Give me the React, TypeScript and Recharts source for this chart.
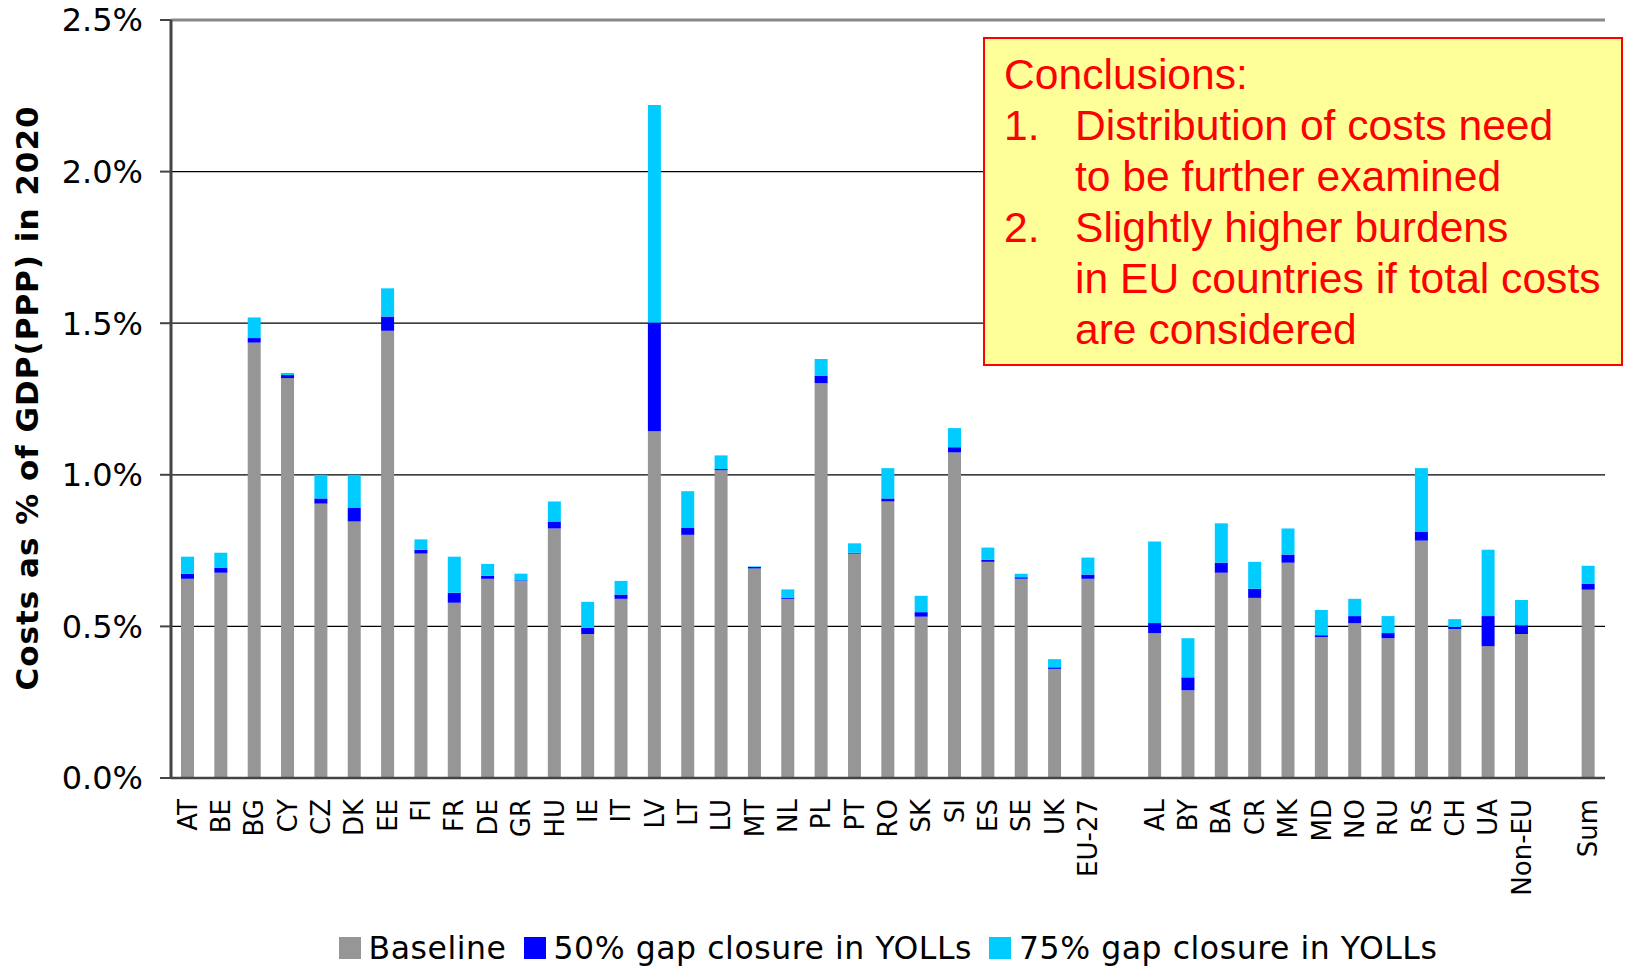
import React from "react";
import { BarChart, Bar, XAxis, YAxis, CartesianGrid, Legend, ReferenceLine } from "recharts";

const categories = ["AT","BE","BG","CY","CZ","DK","EE","FI","FR","DE","GR","HU","IE","IT","LV","LT","LU","MT","NL","PL","PT","RO","SK","SI","ES","SE","UK","EU-27","","AL","BY","BA","CR","MK","MD","NO","RU","RS","CH","UA","Non-EU","","Sum"];
const baseline = [0.657,0.677,1.436,1.319,0.905,0.846,1.475,0.740,0.578,0.657,0.650,0.823,0.475,0.591,1.144,0.802,1.015,0.691,0.591,1.302,0.740,0.912,0.532,1.074,0.713,0.657,0.360,0.657,null,0.478,0.289,0.677,0.594,0.710,0.465,0.511,0.461,0.783,0.491,0.435,0.475,null,0.621];
const gap50 = [0.017,0.017,0.015,0.010,0.017,0.046,0.047,0.013,0.033,0.010,0.002,0.023,0.020,0.014,0.358,0.024,0.004,0.005,0.004,0.024,0.003,0.010,0.015,0.017,0.007,0.005,0.005,0.014,null,0.033,0.043,0.033,0.030,0.027,0.006,0.023,0.017,0.030,0.007,0.099,0.029,null,0.019];
const gap75 = [0.056,0.049,0.068,0.007,0.078,0.108,0.093,0.034,0.119,0.039,0.022,0.066,0.086,0.045,0.718,0.120,0.045,0.002,0.027,0.056,0.031,0.100,0.054,0.063,0.040,0.012,0.027,0.056,null,0.269,0.129,0.130,0.089,0.086,0.083,0.057,0.056,0.209,0.026,0.219,0.083,null,0.060];
const yTicks = [0, 0.5, 1.0, 1.5, 2.0, 2.5];
const seriesNames = ["Baseline", "50% gap closure in YOLLs", "75% gap closure in YOLLs"];
const seriesColors = ["#969696", "#0000FF", "#00CCFF"];
const conclusionsTitle = "Conclusions:";
const conclusionItems = [
  ["1.", "Distribution of costs need", "to be further examined"],
  ["2.", "Slightly higher burdens", "in EU countries if total costs", "are considered"],
];

const data = categories.map((c, i) => ({ name: c, base: baseline[i], g50: gap50[i], g75: gap75[i] }));

const FONT = "'DejaVu Sans', Verdana, sans-serif";

const XTick = (props: any) => {
  const { x, y, payload } = props;
  const ty = y + 21;
  return (
    <text x={x} y={ty} transform={`rotate(-90 ${x} ${ty})`} textAnchor="end" dominantBaseline="central" fontSize={26} fontFamily={FONT} fill="#000">
      {payload.value}
    </text>
  );
};

const YTitle = () => (
  <text x={27} y={398} transform="rotate(-90 27 398)" textAnchor="middle" dominantBaseline="central" fontSize={31} fontWeight="bold" letterSpacing={1} fontFamily={FONT} fill="#000">
    Costs as % of GDP(PPP) in 2020
  </text>
);

const LegendContent = () => (
  <div style={{ display: "flex", justifyContent: "center", alignItems: "center", fontFamily: FONT, fontSize: 31.5, letterSpacing: 0.55, color: "#000" }}>
    {seriesNames.map((n, i) => (
      <div key={n} style={{ display: "flex", alignItems: "center", marginRight: i < 2 ? 17 : 0 }}>
        <div style={{ width: 22, height: 22, background: seriesColors[i], marginRight: 8 }} />
        <span>{n}</span>
      </div>
    ))}
  </div>
);

export default function App() {
  return (
    <div style={{ position: "absolute", left: 0, top: 0, width: 1626, height: 966, background: "#fff" }}>
      <BarChart width={1626} height={966} data={data} margin={{ top: 20, right: 21, left: 0, bottom: 0 }} barSize={13}>
        <CartesianGrid horizontal vertical={false} stroke="#000" strokeWidth={1.2} />
        <XAxis dataKey="name" interval={0} height={152} tick={<XTick />} tickLine={false} tickSize={0} tickMargin={0} axisLine={{ stroke: "#444", strokeWidth: 2.5 }} />
        <YAxis domain={[0, 2.5]} ticks={yTicks} width={171} tickSize={11} tickMargin={17} tickFormatter={(v: number) => `${v.toFixed(1)}%`} tick={{ fontSize: 32, fontFamily: FONT, fill: "#000" }} tickLine={{ stroke: "#444", strokeWidth: 2 }} axisLine={{ stroke: "#444", strokeWidth: 3 }} label={<YTitle />} />
        <YAxis yAxisId="r" orientation="right" domain={[0, 2.5]} width={0} tick={false} tickLine={false} axisLine={{ stroke: "#888", strokeWidth: 2 }} />
        <ReferenceLine y={2.5} stroke="#888" strokeWidth={3} />
        <Legend verticalAlign="bottom" content={<LegendContent />} wrapperStyle={{ position: "absolute", left: 171, width: 1434, top: 930, bottom: "auto" }} />
        <Bar dataKey="base" name={seriesNames[0]} stackId="a" fill={seriesColors[0]} isAnimationActive={false} />
        <Bar dataKey="g50" name={seriesNames[1]} stackId="a" fill={seriesColors[1]} isAnimationActive={false} />
        <Bar dataKey="g75" name={seriesNames[2]} stackId="a" fill={seriesColors[2]} isAnimationActive={false} />
      </BarChart>
      <div style={{ position: "absolute", left: 983, top: 37, width: 640, height: 329, boxSizing: "border-box", background: "#FFFF99", border: "2px solid #FF0000", fontFamily: "'Liberation Sans', Arial, sans-serif", fontSize: 42.6, lineHeight: "51px", color: "#FF0000", paddingTop: 10, paddingLeft: 19 }}>
        <div>{conclusionsTitle}</div>
        {conclusionItems.map((item) => (
          <div key={item[0]} style={{ display: "flex" }}>
            <div style={{ width: 71, flex: "none" }}>{item[0]}</div>
            <div>
              {item.slice(1).map((l) => (
                <div key={l} style={{ whiteSpace: "nowrap" }}>{l}</div>
              ))}
            </div>
          </div>
        ))}
      </div>
    </div>
  );
}
